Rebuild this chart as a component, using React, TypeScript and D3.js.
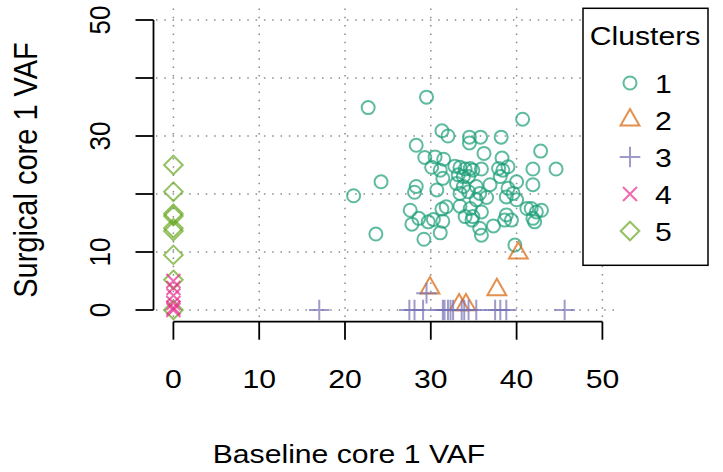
import React from "react";
import * as d3 from "d3";

// ---- data ----
const xTicks = [0, 10, 20, 30, 40, 50];
const yTicks = [0, 10, 20, 30, 40, 50];
const yTickLabels = [0, 10, 30, 50];
const clusterNames = ["1", "2", "3", "4", "5"];
const clusterColors = ["#1B9E77", "#D95F02", "#7570B3", "#E7298A", "#66A61E"];

const c1x = [22.7, 29.5, 40.7, 31.3, 32.0, 34.5, 34.5, 35.8, 38.2, 28.3, 36.2, 42.8, 29.3, 30.5, 31.5, 30.1, 32.8, 33.4, 34.0, 34.6, 34.9, 35.9, 38.3, 37.9, 38.4, 39.0, 41.9, 44.6, 31.1, 31.4, 33.2, 33.8, 34.4, 38.1, 24.2, 28.3, 28.1, 30.7, 33.0, 33.8, 33.4, 34.4, 35.3, 35.7, 36.9, 40.0, 41.9, 39.0, 39.6, 21.0, 38.8, 40.0, 36.5, 35.3, 33.4, 34.6, 31.3, 31.8, 27.6, 28.6, 27.8, 30.3, 31.4, 29.7, 34.0, 34.9, 35.9, 34.8, 38.8, 38.6, 39.4, 41.2, 41.7, 42.9, 42.3, 41.9, 42.1, 37.3, 35.7, 35.9, 31.1, 23.6, 29.2, 39.8];
const c1y = [34.9, 36.7, 32.9, 30.9, 30.0, 29.8, 28.8, 29.8, 29.8, 28.4, 27.0, 27.4, 26.3, 26.4, 26.0, 24.6, 24.8, 24.6, 24.3, 24.4, 24.1, 24.3, 26.2, 24.4, 24.1, 24.7, 24.3, 24.3, 24.1, 22.7, 23.3, 23.0, 23.0, 23.0, 22.1, 21.3, 20.3, 20.7, 21.8, 21.3, 20.1, 20.4, 21.3, 20.1, 21.6, 22.1, 21.6, 21.0, 20.1, 19.7, 19.5, 19.0, 19.4, 19.0, 17.9, 17.5, 17.4, 17.8, 17.2, 15.8, 14.8, 15.6, 15.3, 15.2, 16.1, 16.1, 16.9, 15.5, 16.4, 15.5, 15.5, 17.5, 17.5, 17.2, 16.9, 15.8, 15.2, 14.5, 14.1, 12.9, 13.3, 13.1, 12.2, 11.2];
const c2x = [29.9, 33.3, 34.1, 37.7, 40.2];
const c2y = [3.8, 0.9, 0.9, 3.5, 9.8];
const c3x = [17.0, 27.5, 28.1, 29.1, 29.5, 31.4, 31.6, 32.0, 32.3, 32.6, 33.6, 33.9, 34.4, 35.3, 37.5, 38.1, 38.8, 45.6];
const c3y = [0, 0, 0, 0, 2.9, 0, 0, 0, 0, 0, 0, 0, 0, 0, 0, 0, 0, 0];
const c4x = [0, 0, 0, 0, 0, 0];
const c4y = [5.0, 3.8, 2.5, 1.2, 0.4, 0];
const c5x = [0, 0, 0, 0, 0, 0, 0, 0, 0];
const c5y = [25.0, 20.4, 16.6, 16.2, 14.1, 13.6, 9.5, 5.2, 0];

const xs = [c1x, c2x, c3x, c4x, c5x];
const ys = [c1y, c2y, c3y, c4y, c5y];
const drawOrder = [0, 1, 2, 4, 3];

const W = 723;
const H = 472;
const SX = 1.16; // horizontal stretch of text in the reference
const FONT = "'Liberation Sans', Arial, Helvetica, sans-serif";

function symbolPath(k: number): string {
  if (k === 0) {
    const r = 6.5;
    return `M${r},0A${r},${r} 0 1,1 ${-r},0A${r},${r} 0 1,1 ${r},0Z`;
  }
  if (k === 1) {
    const r = 10.9;
    const h = (Math.sqrt(3) / 2) * r;
    return `M0,${-r}L${h},${r / 2}L${-h},${r / 2}Z`;
  }
  if (k === 2) {
    const a = 10.3;
    return `M${-a},0L${a},0M0,${-a}L0,${a}`;
  }
  if (k === 3) {
    const a = 7;
    return `M${-a},${-a}L${a},${a}M${-a},${a}L${a},${-a}`;
  }
  const a = 9.3;
  return `M0,${-a}L${a},0L0,${a}L${-a},0Z`;
}

export default function App() {
  const x = d3.scaleLinear().domain([0, 50]).range([173.4, 602.4]);
  const y = d3.scaleLinear().domain([0, 50]).range([310, 20]);

  const axisX = 153.5;
  const axisY = 321.7;
  const tick = 18;
  const gridLeft = 156;
  const gridRight = 620;
  const gridTop = 8.5;
  const gridBottom = 321.5;

  const legX = 583;
  const legY = 8.3;
  const legW = 125;
  const legH = 257;

  return (
    <svg
      width={W}
      height={H}
      style={{ position: "absolute", left: 0, top: 0, background: "#fff" }}
      fontFamily={FONT}
    >
      <rect x={0} y={0} width={W} height={H} fill="#fff" />
      {/* grid */}
      <g stroke="#8a8a8a" strokeWidth={1.5} strokeDasharray="1.5 6.8" fill="none">
        {xTicks.map((v) => (
          <line key={"gx" + v} x1={x(v)} x2={x(v)} y1={gridTop} y2={gridBottom} />
        ))}
        {yTicks.map((v) => (
          <line key={"gy" + v} x1={gridLeft} x2={gridRight} y1={y(v)} y2={y(v)} />
        ))}
      </g>

      {/* axes */}
      <g stroke="#000" strokeWidth={1.8} fill="none">
        <line x1={x(0)} x2={x(50)} y1={axisY} y2={axisY} />
        {xTicks.map((v) => (
          <line key={"tx" + v} x1={x(v)} x2={x(v)} y1={axisY} y2={axisY + tick} />
        ))}
        <line x1={axisX} x2={axisX} y1={y(0)} y2={y(50)} />
        {yTicks.map((v) => (
          <line key={"ty" + v} x1={axisX - tick} x2={axisX} y1={y(v)} y2={y(v)} />
        ))}
      </g>
      <g fontSize={26} fill="#000" textAnchor="middle">
        {xTicks.map((v) => (
          <text key={"lx" + v} transform={`translate(${x(v)},388) scale(${SX},1)`}>
            {v}
          </text>
        ))}
        {yTickLabels.map((v) => (
          <text key={"ly" + v} transform={`translate(110,${y(v)}) scale(${SX},1) rotate(-90)`}>
            {v}
          </text>
        ))}
      </g>
      <text
        transform={`translate(349,463) scale(${SX},1)`}
        fontSize={26}
        textAnchor="middle"
      >
        Baseline core 1 VAF
      </text>
      <text
        transform={`translate(37,170) scale(${SX},1) rotate(-90)`}
        fontSize={29}
        textAnchor="middle"
      >
        Surgical core 1 VAF
      </text>

      {/* points */}
      {drawOrder.map((k) => (
        <g
          key={"c" + k}
          stroke={clusterColors[k]}
          strokeOpacity={0.7}
          strokeWidth={2}
          fill="none"
        >
          {xs[k].map((vx, i) => (
            <path
              key={i}
              transform={`translate(${x(vx)},${y(ys[k][i])})`}
              d={symbolPath(k)}
            />
          ))}
        </g>
      ))}

      {/* legend */}
      <rect x={legX} y={legY} width={legW} height={legH} fill="#fff" stroke="#000" strokeWidth={1.5} />
      <text transform={`translate(645,45) scale(${SX},1)`} fontSize={26} textAnchor="middle">
        Clusters
      </text>
      {clusterNames.map((name, i) => {
        const cy = 83 + i * 37;
        return (
          <g key={"lg" + i}>
            <path
              transform={`translate(630,${cy})`}
              d={symbolPath(i)}
              stroke={clusterColors[i]}
              strokeOpacity={0.7}
              strokeWidth={2}
              fill="none"
            />
            <text transform={`translate(655,${cy + 9.5}) scale(${SX},1)`} fontSize={26}>
              {name}
            </text>
          </g>
        );
      })}
    </svg>
  );
}
